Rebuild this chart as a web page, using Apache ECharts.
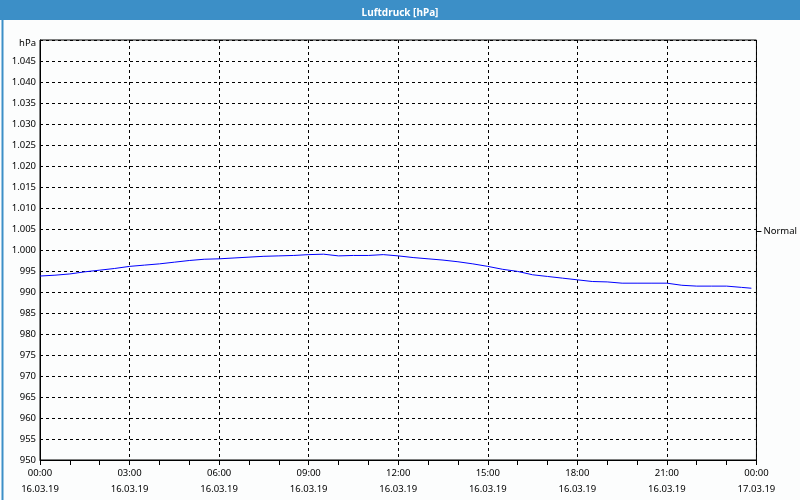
<!DOCTYPE html>
<html>
<head>
<meta charset="utf-8">
<script src="https://cdn.jsdelivr.net/npm/echarts@6/dist/echarts.min.js"></script>
<style>
html,body{margin:0;padding:0;background:#fff;}
#c{width:800px;height:500px;}
</style>
</head>
<body>
<div id="c"></div>
<script>
// ---- data ----
var hours = [0,0.5,1,1.5,2,2.5,3,3.5,4,4.5,5,5.5,6,6.5,7,7.5,8,8.5,9,9.5,10,10.5,11,11.5,12,12.5,13,13.5,14,14.5,15,15.5,16,16.5,17,17.5,18,18.5,19,19.5,20,20.5,21,21.5,22,22.5,23,23.5,23.83];
var pressure = [993.8,994.0,994.3,994.8,995.2,995.6,996.1,996.4,996.7,997.1,997.5,997.8,997.9,998.1,998.3,998.5,998.6,998.7,998.9,999.0,998.6,998.7,998.7,998.9,998.6,998.2,997.9,997.6,997.2,996.7,996.1,995.4,994.9,994.1,993.7,993.3,992.9,992.5,992.4,992.1,992.1,992.1,992.1,991.6,991.4,991.4,991.4,991.1,990.9];
var tickHours = [0,3,6,9,12,15,18,21,24];
var timeLabels = ['00:00','03:00','06:00','09:00','12:00','15:00','18:00','21:00','00:00'];
var dateLabels = ['16.03.19','16.03.19','16.03.19','16.03.19','16.03.19','16.03.19','16.03.19','16.03.19','17.03.19'];
var normalValue = 1004.5;
var unitLabel = 'hPa';
var titleText = 'Luftdruck [hPa]';

var seriesData = hours.map(function(h,i){return [h, pressure[i]];});

function fmtNum(v){
  var s = String(Math.round(v));
  if (s.length > 3) s = s.slice(0, s.length-3) + '.' + s.slice(s.length-3);
  return s;
}

var FONT = '"Noto Sans", "DejaVu Sans", sans-serif';
var chart = echarts.init(document.getElementById('c'), null, {renderer:'canvas'});
chart.setOption({
  backgroundColor: '#fcfdfd',
  animation: false,
  graphic: [
    {type:'rect', left:0, top:0, shape:{width:800, height:20}, style:{fill:'#3c8fc7'}, z:0},
    {type:'rect', left:0, top:0, shape:{width:799, height:499}, style:{fill:'none', stroke:'#3c8fc7', lineWidth:2}, z:0}
  ],
  title: {
    text: titleText, left: 'center', top: 3,
    textStyle: {color:'#ffffff', fontSize: 10, fontWeight:'bold', fontFamily: FONT}
  },
  grid: {left:40, right:40, top:40, bottom:40, show:true, borderColor:'#000', borderWidth:1, backgroundColor:'transparent'},
  xAxis: {
    type: 'value', min: 0, max: 24, interval: 3,
    axisLine: {show:true, lineStyle:{color:'#000', width:1}},
    axisTick: {show:true, length:5, lineStyle:{color:'#000'}},
    minorTick: {show:true, splitNumber:3, length:5, lineStyle:{color:'#000'}},
    splitLine: {show:true, lineStyle:{color:'#000', type:[3,3], width:1}},
    axisLabel: {
      margin: 5, color:'#000', fontSize: 9.5, fontFamily: FONT, lineHeight: 16,
      formatter: function(v){
        var i = tickHours.indexOf(v);
        return i < 0 ? '' : timeLabels[i] + '\n' + dateLabels[i];
      }
    }
  },
  yAxis: [{
    type: 'value', min: 950, max: 1050, interval: 5,
    axisLine: {show:true, lineStyle:{color:'#000', width:1}},
    axisTick: {show:false},
    splitLine: {show:true, lineStyle:{color:'#000', type:[3,3], width:1}},
    axisLabel: {
      margin: 4, color:'#000', fontSize: 9.5, fontFamily: FONT,
      formatter: function(v){ return v === 1050 ? '{u|' + unitLabel + '}' : fmtNum(v); },
      rich: {u: {padding:[7,0,0,0], color:'#000', fontSize:9.5, fontFamily: FONT}}
    }
  },{
    type: 'value', min: 950, max: 1050, position: 'right',
    axisLine: {show:false},
    splitLine: {show:false},
    axisTick: {show:true, length:5, customValues:[normalValue], lineStyle:{color:'#000'}},
    axisLabel: {show:true, margin:7, color:'#000', fontSize:9.5, fontFamily: FONT, customValues:[normalValue],
      formatter: function(){ return 'Normal'; }}
  }],
  series: [{
    type: 'line', data: seriesData, showSymbol: false, symbol:'none',
    lineStyle: {color:'#0000ff', width:1}, yAxisIndex: 0
  }]
});
</script>
</body>
</html>
